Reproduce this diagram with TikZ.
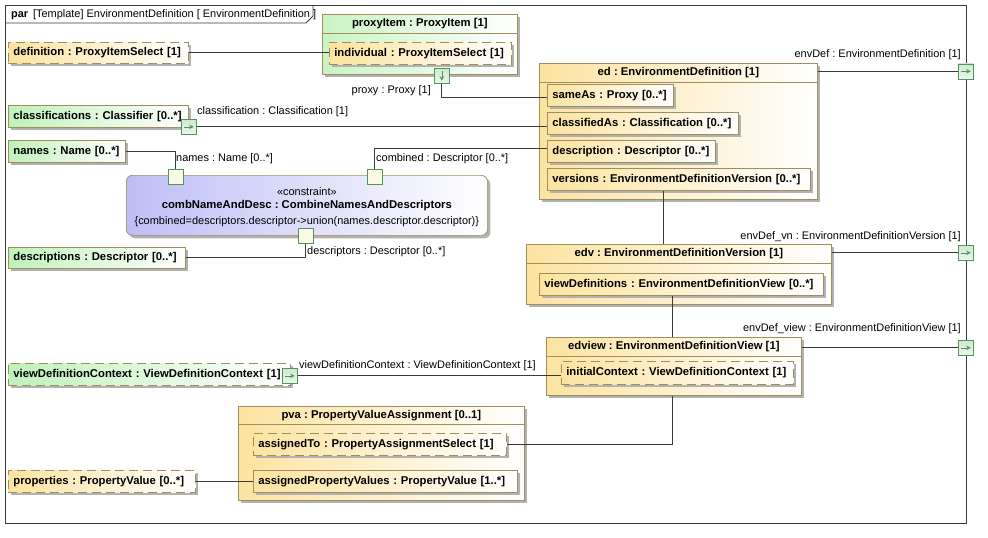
\documentclass[tikz,border=0pt]{standalone}
\usepackage{fontspec}
\setmainfont{Liberation Sans}
\usetikzlibrary{shadows,arrows.meta,calc}
\definecolor{bord}{HTML}{A08F5A}
\definecolor{ylw}{HTML}{FCE3A0}
\definecolor{grn}{HTML}{C0F2BA}
\definecolor{blu}{HTML}{BEBEF6}
\definecolor{pbord}{HTML}{4F9560}
\definecolor{pfill}{HTML}{CFE8CF}
\definecolor{cpfill}{HTML}{FBFBE4}
\definecolor{shd}{HTML}{B2B2B2}
\definecolor{ln}{HTML}{3A3A3A}
\frenchspacing
\newcommand\nodefnt{\bfseries\fontsize{11.3}{13}\selectfont\frenchspacing}
\newcommand\lblfnt{\fontsize{10.95}{13}\selectfont\frenchspacing}
\tikzset{
  wh/.code 2 args={\pgfmathsetlengthmacro\tw{#1-10}\edef\next{\noexpand\tikzset{minimum width=#1pt,minimum height=#2pt,text width=\tw}}\next},
  boxbase/.style={draw=bord, line width=0.7pt, inner xsep=5pt, inner ysep=0pt, anchor=north west, align=left, font=\nodefnt,
    execute at begin node={\hbox\bgroup}, execute at end node={\egroup},
    general shadow={fill=shd, shadow xshift=3pt, shadow yshift=-3pt}},
  ybox/.style={boxbase, left color=ylw, right color=white},
  gbox/.style={boxbase, left color=grn, right color=white},
  gcont/.style={boxbase, left color=grn!85, right color=white},
  ycont/.style={boxbase, left color=ylw, right color=white},
  dsh/.style={dash pattern=on 9pt off 5pt},
  hdr/.style={inner sep=0pt, font=\nodefnt},
  sepline/.style={draw=bord, line width=0.7pt},
  lbl/.style={inner sep=0pt, font=\lblfnt},
  conn/.style={draw=ln, line width=0.8pt},
  port/.style={draw=pbord, line width=0.7pt, minimum size=15pt, inner sep=0pt, anchor=north west, top color=pfill, bottom color=pfill!40},
  cport/.style={draw=pbord, line width=0.7pt, minimum size=15pt, inner sep=0pt, anchor=north west, fill=cpfill},
  parrow/.style={draw=pbord, line width=0.6pt, -{Stealth[length=4.5pt,width=4.5pt]}},
}
\begin{document}
\begin{tikzpicture}[x=1pt,y=-1pt]
\useasboundingbox (0,0) rectangle (988,538);
\fill[white] (0,0) rectangle (988,538);
% frame
\node[draw=ln, line width=0.8pt, minimum width=961pt, minimum height=518pt, inner sep=0pt, anchor=north west] (frame) at (5,5) {};
\draw[ln, line width=0.8pt] (5,23) -- (306,23) -- (313,16) -- (313,5);
\node[lbl, anchor=west] (title) at (11,14.5) {\textbf{par}\, [Template] EnvironmentDefinition [ EnvironmentDefinition ]};

% left nodes
\node[ybox, dsh, wh={180}{21}] (definition) at (8,42) {definition : ProxyItemSelect [1]};
\node[gbox, wh={180}{22}] (classifications) at (8,105) {classifications : Classifier [0..*]};
\node[gbox, wh={117}{22}] (names) at (8,140) {names : Name [0..*]};
\node[gbox, wh={177}{21}] (descriptions) at (8,247) {descriptions : Descriptor [0..*]};
\node[gbox, dsh, wh={282}{22}] (vdc) at (8,363) {viewDefinitionContext : ViewDefinitionContext [1]};
\node[ybox, dsh, wh={187}{22}] (properties) at (8,470) {properties : PropertyValue [0..*]};

% proxyItem
\node[gcont, wh={195}{60}] (proxyItem) at (322,14) {};
\node[hdr] (proxyItemH) at ($(proxyItem.north)+(0,9.5)$) {proxyItem : ProxyItem [1]};
\draw[sepline] ($(proxyItem.north west)+(0,19)$) -- ($(proxyItem.north east)+(0,19)$);
\node[ybox, dsh, wh={182}{22}] (individual) at (329,42) {individual : ProxyItemSelect [1]};

% constraint
\node[draw=bord, line width=0.7pt, general shadow={fill=shd, shadow xshift=3pt, shadow yshift=-3pt}, rounded corners=6pt, left color=blu, right color=white, minimum width=361pt, minimum height=60pt, inner sep=0pt, anchor=north west] (constraint) at (126,175) {};
\node[lbl] (cst1) at ($(constraint.north)+(0,17)$) {«constraint»};
\node[hdr] (cst2) at ($(constraint.north)+(0,31)$) {combNameAndDesc : CombineNamesAndDescriptors};
\node[lbl] (cst3) at ($(constraint.north)+(0,47)$) {\{combined=descriptors.descriptor->union(names.descriptor.descriptor)\}};

% ed
\node[ycont, wh={278}{136}] (ed) at (539,63) {};
\node[hdr] (edH) at ($(ed.north)+(0,9.5)$) {ed : EnvironmentDefinition [1]};
\draw[sepline] ($(ed.north west)+(0,19)$) -- ($(ed.north east)+(0,19)$);
\node[ybox, wh={126}{22}] (sameAs) at (547,84) {sameAs : Proxy [0..*]};
\node[ybox, wh={191}{22}] (classifiedAs) at (547,112) {classifiedAs : Classification [0..*]};
\node[ybox, wh={168}{22}] (description) at (547,140) {description : Descriptor [0..*]};
\node[ybox, wh={263}{22}] (versions) at (547,168) {versions : EnvironmentDefinitionVersion [0..*]};

% edv
\node[ycont, wh={305}{60}] (edv) at (526,244) {};
\node[hdr] (edvH) at ($(edv.north)+(0,9.5)$) {edv : EnvironmentDefinitionVersion [1]};
\draw[sepline] ($(edv.north west)+(0,19)$) -- ($(edv.north east)+(0,19)$);
\node[ybox, wh={284}{22}] (viewDefinitions) at (539,273) {viewDefinitions : EnvironmentDefinitionView [0..*]};

% edview
\node[ycont, wh={255}{58}] (edview) at (546,337) {};
\node[hdr] (edviewH) at ($(edview.north)+(0,9.5)$) {edview : EnvironmentDefinitionView [1]};
\draw[sepline] ($(edview.north west)+(0,19)$) -- ($(edview.north east)+(0,19)$);
\node[ybox, dsh, wh={232}{23}] (initialContext) at (561,361) {initialContext : ViewDefinitionContext [1]};

% pva
\node[ycont, wh={286}{94}] (pva) at (238,406) {};
\node[hdr] (pvaH) at ($(pva.north)+(0,9.5)$) {pva : PropertyValueAssignment [0..1]};
\draw[sepline] ($(pva.north west)+(0,18)$) -- ($(pva.north east)+(0,18)$);
\node[ybox, dsh, wh={253}{22}] (assignedTo) at (253,433) {assignedTo : PropertyAssignmentSelect [1]};
\node[ybox, wh={264}{22}] (assignedPV) at (253,470) {assignedPropertyValues : PropertyValue [1..*]};

% ports
\node[port] (proxyport) at (434,68) {};
\draw[parrow] ($(proxyport.north)+(0,3)$) -- ($(proxyport.south)+(0,-3)$);
\node[port] (clport) at (181,119) {};
\draw[parrow] ($(clport.west)+(3,0)$) -- ($(clport.east)+(-3,0)$);
\node[port] (vport) at (282,368) {};
\draw[parrow] ($(vport.west)+(3,0)$) -- ($(vport.east)+(-3,0)$);
\node[port] (envp1) at (958,63.5) {};
\draw[parrow] ($(envp1.west)+(3,0)$) -- ($(envp1.east)+(-3,0)$);
\node[port] (envp2) at (958,245) {};
\draw[parrow] ($(envp2.west)+(3,0)$) -- ($(envp2.east)+(-3,0)$);
\node[port] (envp3) at (958,340) {};
\draw[parrow] ($(envp3.west)+(3,0)$) -- ($(envp3.east)+(-3,0)$);
\node[cport] (nport) at (168,169) {};
\node[cport] (combport) at (367,169) {};
\node[cport] (descport) at (298,228) {};

% connectors
\draw[conn] (definition.east) -- (definition.east -| individual.west);
\draw[conn] (proxyport.south) |- ($(sameAs.west)+(0,2)$);
\draw[conn] (clport.east) -- (clport.east -| classifiedAs.west);
\draw[conn] (names.east) -| (nport.north);
\draw[conn] (combport.north) |- ($(description.west)+(0,-3)$);
\draw[conn] (descport.south) |- (descriptions.east);
\coordinate (v1) at ($(versions.south west)+(116,0)$);
\draw[conn] (v1) -- (v1 |- edv.north);
\coordinate (v2) at ($(viewDefinitions.south west)+(133,0)$);
\draw[conn] (v2) -- (v2 |- edview.north);
\draw[conn] (edview.south -| v2) |- (assignedTo.east);
\draw[conn] (vport.east) -- (vport.east -| initialContext.west);
\draw[conn] (properties.east) -- (properties.east -| assignedPV.west);
\draw[conn] (envp1.west) -- (envp1.west -| ed.east);
\draw[conn] (envp2.west) -- (envp2.west -| edv.east);
\draw[conn] (envp3.west) -- (envp3.west -| edview.east);

% labels
\node[lbl, anchor=east] (lproxy) at (431,91) {proxy : Proxy [1]};
\node[lbl, anchor=west] (lclass) at (197,112) {classification : Classification [1]};
\node[lbl, anchor=west] (lnames) at (176,159) {names : Name [0..*]};
\node[lbl, anchor=west] (lcomb) at (376,159) {combined : Descriptor [0..*]};
\node[lbl, anchor=west] (ldesc) at (307,252) {descriptors : Descriptor [0..*]};
\node[lbl, anchor=west] (lvdc) at (299,366) {viewDefinitionContext : ViewDefinitionContext [1]};
\node[lbl, anchor=east] (lenv1) at (961,55) {envDef : EnvironmentDefinition [1]};
\node[lbl, anchor=east] (lenv2) at (961,237) {envDef\_vn : EnvironmentDefinitionVersion [1]};
\node[lbl, anchor=east] (lenv3) at (961,329) {envDef\_view : EnvironmentDefinitionView [1]};
\end{tikzpicture}
\end{document}
